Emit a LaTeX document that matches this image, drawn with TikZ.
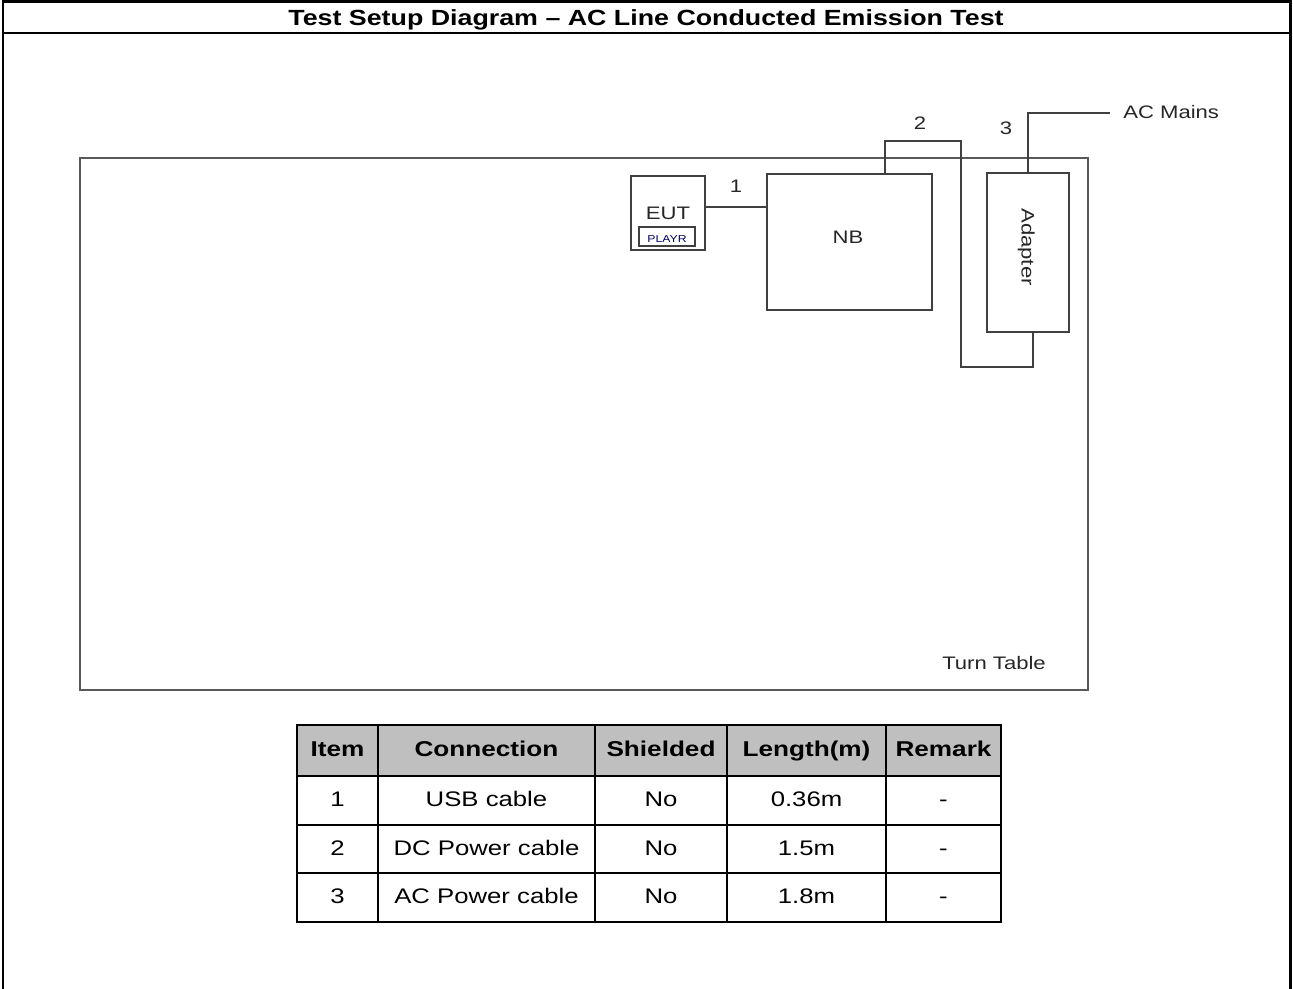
\documentclass[tikz,border=0pt]{standalone}
\usepackage{fontspec}
\setmainfont[FakeStretch=1.22]{Liberation Sans}
\usetikzlibrary{positioning,calc}

\begin{document}
\begin{tikzpicture}[
  x=0.02cm, y=-0.02cm,
  every node/.style={font=\fontsize{10.3}{12}\selectfont,text=black!85,inner sep=0pt,text height=0.72em,text depth=0pt},
  devbox/.style={rectangle,draw=black!75,line width=1.1pt},
  cable/.style={draw=black!75,line width=1.1pt},
  frame/.style={line width=1.7pt},
  grid/.style={line width=1.6pt},
  head/.style={font=\bfseries\fontsize{12.2}{14}\selectfont,text=black},
  cell/.style={font=\fontsize{12}{14}\selectfont,text=black}
]
\useasboundingbox (0,0) rectangle (1293,989);

% outer frame and title
\draw[frame] (3,989) -- (3,2) -- (1290,2) -- (1290,989);
\draw[frame] (3,33) -- (1290,33);
\node[font=\bfseries\fontsize{12.5}{15}\selectfont,text=black] (title) at (646,19) {Test Setup Diagram – AC Line Conducted Emission Test};

% turn table
\node[devbox,draw=black!65,minimum width=20.16cm,minimum height=10.64cm] (turntable) at (584,424) {};
\node (ttlbl) at (994,663) {Turn Table};

% devices
\node[devbox,minimum width=1.48cm,minimum height=1.48cm] (eut) at (668,213) {};
\node (euttxt) at (668,213) {EUT};
\node[draw=black!75,line width=0.6pt,minimum width=1.12cm,minimum height=0.38cm,
      font=\fontsize{5.7}{6}\selectfont,text=blue!40!black] (playr) at (667,236.5) {PLAYR};
\node[devbox,minimum width=3.3cm,minimum height=2.72cm] (nb) at (849.5,242) {};
\node (nbtxt) at (848,237) {NB};
\node[devbox,minimum width=1.64cm,minimum height=3.18cm] (adapter) at (1028,252.5) {};
\node[rotate=-90] (adtxt) at (1028,247) {Adapter};

% cables
\coordinate (c1) at ($(eut.east)+(0,-6)$);
\draw[cable] (c1) -- (c1 -| nb.west);
\node (n1) at (736,186) {1};
\draw[cable] ($(nb.north)+(35.5,0)$) -- ++(0,-32) -| (961,367) -| ($(adapter.south)+(5,0)$);
\node (n2) at (920,123) {2};
\coordinate (mains) at (1110,113);
\draw[cable] (adapter.north) |- (mains);
\node (n3) at (1006,128) {3};
\node[anchor=west] (mainslbl) at (1123,112) {AC Mains};

% cable table
\fill[black!25] (297,725) rectangle (1001,776);
\foreach \yy in {776,825,873} \draw[grid] (297,\yy) -- (1001,\yy);
\foreach \xx in {378,595,727,886} \draw[grid] (\xx,725) -- (\xx,922);
\draw[grid] (297,725) rectangle (1001,922);
\foreach \cx/\txt [count=\i] in {337.5/Item,486.5/Connection,661/Shielded,806.5/Length(m),943.5/Remark}
  \node[head] (h\i) at (\cx,750.5) {\txt};
\foreach \num/\con/\lng [count=\r] in {1/USB cable/0.36m,2/DC Power cable/1.5m,3/AC Power cable/1.8m}{
  \pgfmathsetmacro{\ry}{800.5+(\r-1)*48.5}
  \node[cell] (item\r) at (337.5,\ry) {\num};
  \node[cell] (conn\r) at (486.5,\ry) {\con};
  \node[cell] (shld\r) at (661,\ry) {No};
  \node[cell] (len\r) at (806.5,\ry) {\lng};
  \node[cell] (rmk\r) at (943.5,\ry) {-};
}
\end{tikzpicture}
\end{document}
